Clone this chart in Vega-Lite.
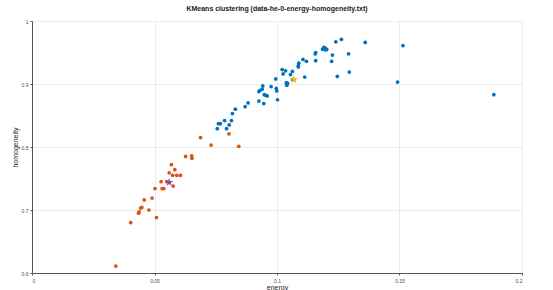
{
  "$schema": "https://vega.github.io/schema/vega-lite/v6.json",
  "width": 490,
  "height": 252,
  "autosize": {"type": "none"},
  "padding": {"left": 32, "top": 21, "right": 31, "bottom": 17},
  "background": "white",
  "title": {
    "text": "KMeans clustering (data-he-0-energy-homogeneity.txt)",
    "font": "Liberation Sans",
    "fontSize": 7,
    "fontWeight": "bold",
    "color": "#1a1a1a",
    "anchor": "middle",
    "offset": 7
  },
  "config": {
    "view": {"stroke": "#ebebeb", "strokeWidth": 1},
    "axis": {
      "labelFont": "Liberation Sans",
      "titleFont": "Liberation Sans",
      "labelFontSize": 5,
      "titleFontSize": 7,
      "titleFontWeight": "normal",
      "labelColor": "#4d4d4d",
      "titleColor": "#262626",
      "gridColor": "#ebebeb",
      "gridWidth": 1,
      "domainColor": "#555555",
      "domainWidth": 1,
      "tickColor": "#555555",
      "tickSize": 2,
      "labelPadding": 2,
      "format": "~g"
    }
  },
  "data": {
    "values": [
      {"energy": 0.0342, "homogeneity": 0.611, "series": "Cluster 1", "kind": "point"},
      {"energy": 0.0403, "homogeneity": 0.680, "series": "Cluster 1", "kind": "point"},
      {"energy": 0.0435, "homogeneity": 0.695, "series": "Cluster 1", "kind": "point"},
      {"energy": 0.0437, "homogeneity": 0.697, "series": "Cluster 1", "kind": "point"},
      {"energy": 0.0443, "homogeneity": 0.703, "series": "Cluster 1", "kind": "point"},
      {"energy": 0.0448, "homogeneity": 0.704, "series": "Cluster 1", "kind": "point"},
      {"energy": 0.0458, "homogeneity": 0.716, "series": "Cluster 1", "kind": "point"},
      {"energy": 0.0477, "homogeneity": 0.700, "series": "Cluster 1", "kind": "point"},
      {"energy": 0.0490, "homogeneity": 0.719, "series": "Cluster 1", "kind": "point"},
      {"energy": 0.0508, "homogeneity": 0.688, "series": "Cluster 1", "kind": "point"},
      {"energy": 0.0502, "homogeneity": 0.734, "series": "Cluster 1", "kind": "point"},
      {"energy": 0.0531, "homogeneity": 0.734, "series": "Cluster 1", "kind": "point"},
      {"energy": 0.0538, "homogeneity": 0.734, "series": "Cluster 1", "kind": "point"},
      {"energy": 0.0527, "homogeneity": 0.745, "series": "Cluster 1", "kind": "point"},
      {"energy": 0.0550, "homogeneity": 0.745, "series": "Cluster 1", "kind": "point"},
      {"energy": 0.0576, "homogeneity": 0.738, "series": "Cluster 1", "kind": "point"},
      {"energy": 0.0560, "homogeneity": 0.759, "series": "Cluster 1", "kind": "point"},
      {"energy": 0.0574, "homogeneity": 0.755, "series": "Cluster 1", "kind": "point"},
      {"energy": 0.0591, "homogeneity": 0.755, "series": "Cluster 1", "kind": "point"},
      {"energy": 0.0606, "homogeneity": 0.755, "series": "Cluster 1", "kind": "point"},
      {"energy": 0.0583, "homogeneity": 0.764, "series": "Cluster 1", "kind": "point"},
      {"energy": 0.0569, "homogeneity": 0.772, "series": "Cluster 1", "kind": "point"},
      {"energy": 0.0627, "homogeneity": 0.785, "series": "Cluster 1", "kind": "point"},
      {"energy": 0.0652, "homogeneity": 0.786, "series": "Cluster 1", "kind": "point"},
      {"energy": 0.0653, "homogeneity": 0.782, "series": "Cluster 1", "kind": "point"},
      {"energy": 0.0688, "homogeneity": 0.815, "series": "Cluster 1", "kind": "point"},
      {"energy": 0.0731, "homogeneity": 0.803, "series": "Cluster 1", "kind": "point"},
      {"energy": 0.0804, "homogeneity": 0.821, "series": "Cluster 1", "kind": "point"},
      {"energy": 0.0844, "homogeneity": 0.801, "series": "Cluster 1", "kind": "point"},
      {"energy": 0.0756, "homogeneity": 0.829, "series": "Cluster 2", "kind": "point"},
      {"energy": 0.0761, "homogeneity": 0.837, "series": "Cluster 2", "kind": "point"},
      {"energy": 0.0769, "homogeneity": 0.837, "series": "Cluster 2", "kind": "point"},
      {"energy": 0.0794, "homogeneity": 0.829, "series": "Cluster 2", "kind": "point"},
      {"energy": 0.0805, "homogeneity": 0.835, "series": "Cluster 2", "kind": "point"},
      {"energy": 0.0786, "homogeneity": 0.842, "series": "Cluster 2", "kind": "point"},
      {"energy": 0.0814, "homogeneity": 0.842, "series": "Cluster 2", "kind": "point"},
      {"energy": 0.0818, "homogeneity": 0.853, "series": "Cluster 2", "kind": "point"},
      {"energy": 0.0830, "homogeneity": 0.860, "series": "Cluster 2", "kind": "point"},
      {"energy": 0.0870, "homogeneity": 0.864, "series": "Cluster 2", "kind": "point"},
      {"energy": 0.0882, "homogeneity": 0.870, "series": "Cluster 2", "kind": "point"},
      {"energy": 0.0926, "homogeneity": 0.873, "series": "Cluster 2", "kind": "point"},
      {"energy": 0.0946, "homogeneity": 0.869, "series": "Cluster 2", "kind": "point"},
      {"energy": 0.0926, "homogeneity": 0.888, "series": "Cluster 2", "kind": "point"},
      {"energy": 0.0931, "homogeneity": 0.890, "series": "Cluster 2", "kind": "point"},
      {"energy": 0.0940, "homogeneity": 0.892, "series": "Cluster 2", "kind": "point"},
      {"energy": 0.0942, "homogeneity": 0.897, "series": "Cluster 2", "kind": "point"},
      {"energy": 0.0954, "homogeneity": 0.882, "series": "Cluster 2", "kind": "point"},
      {"energy": 0.0960, "homogeneity": 0.881, "series": "Cluster 2", "kind": "point"},
      {"energy": 0.0948, "homogeneity": 0.883, "series": "Cluster 2", "kind": "point"},
      {"energy": 0.0976, "homogeneity": 0.896, "series": "Cluster 2", "kind": "point"},
      {"energy": 0.0997, "homogeneity": 0.893, "series": "Cluster 2", "kind": "point"},
      {"energy": 0.0999, "homogeneity": 0.889, "series": "Cluster 2", "kind": "point"},
      {"energy": 0.1002, "homogeneity": 0.875, "series": "Cluster 2", "kind": "point"},
      {"energy": 0.0995, "homogeneity": 0.908, "series": "Cluster 2", "kind": "point"},
      {"energy": 0.1021, "homogeneity": 0.923, "series": "Cluster 2", "kind": "point"},
      {"energy": 0.1025, "homogeneity": 0.916, "series": "Cluster 2", "kind": "point"},
      {"energy": 0.1035, "homogeneity": 0.921, "series": "Cluster 2", "kind": "point"},
      {"energy": 0.1038, "homogeneity": 0.902, "series": "Cluster 2", "kind": "point"},
      {"energy": 0.1040, "homogeneity": 0.898, "series": "Cluster 2", "kind": "point"},
      {"energy": 0.1043, "homogeneity": 0.901, "series": "Cluster 2", "kind": "point"},
      {"energy": 0.1055, "homogeneity": 0.915, "series": "Cluster 2", "kind": "point"},
      {"energy": 0.1063, "homogeneity": 0.920, "series": "Cluster 2", "kind": "point"},
      {"energy": 0.1064, "homogeneity": 0.907, "series": "Cluster 2", "kind": "point"},
      {"energy": 0.1087, "homogeneity": 0.929, "series": "Cluster 2", "kind": "point"},
      {"energy": 0.1089, "homogeneity": 0.933, "series": "Cluster 2", "kind": "point"},
      {"energy": 0.1087, "homogeneity": 0.927, "series": "Cluster 2", "kind": "point"},
      {"energy": 0.1106, "homogeneity": 0.939, "series": "Cluster 2", "kind": "point"},
      {"energy": 0.1120, "homogeneity": 0.936, "series": "Cluster 2", "kind": "point"},
      {"energy": 0.1113, "homogeneity": 0.911, "series": "Cluster 2", "kind": "point"},
      {"energy": 0.1156, "homogeneity": 0.948, "series": "Cluster 2", "kind": "point"},
      {"energy": 0.1158, "homogeneity": 0.950, "series": "Cluster 2", "kind": "point"},
      {"energy": 0.1158, "homogeneity": 0.937, "series": "Cluster 2", "kind": "point"},
      {"energy": 0.1186, "homogeneity": 0.955, "series": "Cluster 2", "kind": "point"},
      {"energy": 0.1191, "homogeneity": 0.958, "series": "Cluster 2", "kind": "point"},
      {"energy": 0.1197, "homogeneity": 0.957, "series": "Cluster 2", "kind": "point"},
      {"energy": 0.1199, "homogeneity": 0.954, "series": "Cluster 2", "kind": "point"},
      {"energy": 0.1203, "homogeneity": 0.955, "series": "Cluster 2", "kind": "point"},
      {"energy": 0.1226, "homogeneity": 0.946, "series": "Cluster 2", "kind": "point"},
      {"energy": 0.1223, "homogeneity": 0.936, "series": "Cluster 2", "kind": "point"},
      {"energy": 0.1240, "homogeneity": 0.967, "series": "Cluster 2", "kind": "point"},
      {"energy": 0.1263, "homogeneity": 0.971, "series": "Cluster 2", "kind": "point"},
      {"energy": 0.1292, "homogeneity": 0.948, "series": "Cluster 2", "kind": "point"},
      {"energy": 0.1295, "homogeneity": 0.919, "series": "Cluster 2", "kind": "point"},
      {"energy": 0.1246, "homogeneity": 0.912, "series": "Cluster 2", "kind": "point"},
      {"energy": 0.1360, "homogeneity": 0.966, "series": "Cluster 2", "kind": "point"},
      {"energy": 0.1514, "homogeneity": 0.961, "series": "Cluster 2", "kind": "point"},
      {"energy": 0.1492, "homogeneity": 0.903, "series": "Cluster 2", "kind": "point"},
      {"energy": 0.1885, "homogeneity": 0.883, "series": "Cluster 2", "kind": "point"},
      {"energy": 0.0560, "homogeneity": 0.744, "series": "Centroid 1", "kind": "centroid"},
      {"energy": 0.1069, "homogeneity": 0.907, "series": "Centroid 2", "kind": "centroid"}
    ]
  },
  "encoding": {
    "x": {
      "field": "energy",
      "type": "quantitative",
      "scale": {"domain": [0, 0.2], "nice": false, "zero": false},
      "axis": {"values": [0, 0.05, 0.1, 0.15, 0.2], "title": "energy", "titlePadding": 0, "labelPadding": 3}
    },
    "y": {
      "field": "homogeneity",
      "type": "quantitative",
      "scale": {"domain": [0.6, 1], "nice": false, "zero": false},
      "axis": {"values": [0.6, 0.7, 0.8, 0.9, 1], "title": "homogeneity", "titlePadding": 3}
    },
    "color": {
      "field": "series",
      "type": "nominal",
      "scale": {
        "domain": ["Cluster 1", "Cluster 2", "Centroid 1", "Centroid 2"],
        "range": ["#D95319", "#0072BD", "#8E44AD", "#EDB120"]
      },
      "legend": null
    }
  },
  "layer": [
    {
      "transform": [{"filter": "datum.kind === 'point'"}],
      "mark": {"type": "point", "shape": "circle", "filled": true, "opacity": 1, "size": 14, "clip": true}
    },
    {
      "transform": [{"filter": "datum.kind === 'centroid'"}],
      "mark": {
        "type": "point",
        "shape": "M0,-1L0.2245,-0.309L0.9511,-0.309L0.3633,0.118L0.5878,0.809L0,0.382L-0.5878,0.809L-0.3633,0.118L-0.9511,-0.309L-0.2245,-0.309Z",
        "filled": true,
        "opacity": 1,
        "size": 80,
        "clip": true
      }
    }
  ]
}
